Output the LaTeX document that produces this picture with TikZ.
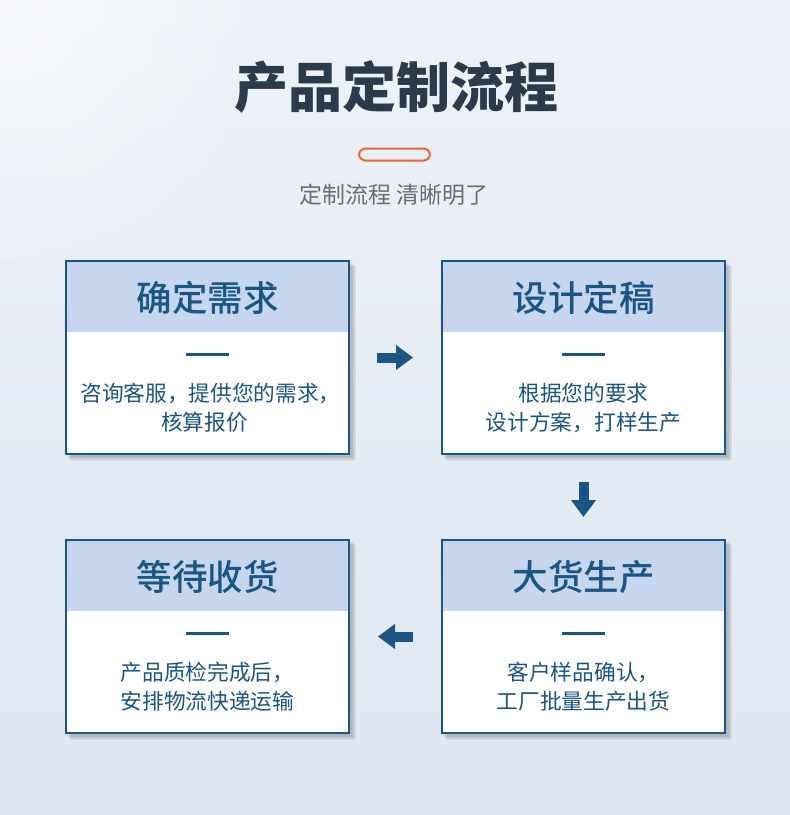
\documentclass[tikz,border=0pt]{standalone}
\usepackage{fontspec}
\setmainfont{Noto Sans CJK SC}
\newfontfamily\cjkmed{Noto Sans CJK SC Medium}
\usetikzlibrary{arrows.meta,calc}
\definecolor{bgA}{HTML}{EEF2F8}
\definecolor{bgB}{HTML}{DEE6F1}
\definecolor{ink}{HTML}{1B5583}
\definecolor{headfill}{HTML}{C5D6EE}
\definecolor{titlecol}{HTML}{2D3A4B}
\definecolor{subcol}{HTML}{6A6E74}
\definecolor{pill}{HTML}{E9643A}
\tikzset{
  card/.style={minimum width=283pt, minimum height=193pt, inner sep=0pt, line width=2pt},
  cardtitle/.style={font=\fontsize{35.5}{38}\selectfont\cjkmed, text=ink, inner sep=0pt},
  cardbody/.style={font=\fontsize{21.7}{28.8}\selectfont, text=ink, align=center, inner sep=0pt},
  dashbar/.style={draw=ink, line width=3pt},
  flow/.style={draw=ink, line width=10pt, -{Triangle[width=24pt,length=17pt]}},
}
\newcommand{\mycard}[5]{%
  \foreach \s/\o in {6/0.05,4.5/0.07,3/0.10}{%
    \fill[black, opacity=\o] ($(#2,#3)+(-142.5+\s,-97.5+\s)$) rectangle ($(#2,#3)+(142.5+\s,97.5+\s)$);}
  \node[card, fill=white] (#1) at (#2,#3) {};
  \fill[headfill] (#1.north west) rectangle ($(#1.north east)+(0,72)$);
  \node[card, draw=ink] at (#1.center) {};
  \node[cardtitle] (#1-t) at ($(#1.north)+(0,38)$) {#4};
  \coordinate (#1-dl) at ($(#1.north)+(-21.5,94)$);
  \coordinate (#1-dr) at ($(#1.north)+(21.5,94)$);
  \draw[dashbar] (#1-dl) -- (#1-dr);
  \node[cardbody] (#1-b) at ($(#1.north)+(0,148)$) {#5};
}
\begin{document}
\begin{tikzpicture}[x=1pt,y=-1pt]
\useasboundingbox (0,0) rectangle (790,815);
\shade[top color=bgA, bottom color=bgB] (0,0) rectangle (790,815);
\shade[inner color=white, outer color=bgA, opacity=0.5] (0,0) circle (260);
\node[font=\fontsize{54}{58}\selectfont\bfseries, text=titlecol, inner sep=0pt] (title) at (396,87) {产品定制流程};
\node[draw=pill, line width=2pt, rounded corners=6.5pt, minimum width=71pt, minimum height=12pt, inner sep=0pt] (pillbar) at (394.5,154.5) {};
\node[font=\fontsize{23}{26}\selectfont, text=subcol, inner sep=0pt] (sub) at (394,195) {定制流程 清晰明了};
\mycard{c1}{207.5}{357.5}{确定需求}{\hspace*{6pt}咨询客服，提供您的需求，\\核算报价\hspace*{6pt}}
\mycard{c2}{583.5}{357.5}{设计定稿}{根据您的要求\\设计方案，打样生产}
\mycard{c3}{207.5}{636.5}{等待收货}{产品质检完成后，\\安排物流快递运输}
\mycard{c4}{583.5}{636.5}{大货生产}{客户样品确认，\\工厂批量生产出货}
\draw[flow, shorten <=27pt, shorten >=28pt] (c1.east) -- (c2.west);
\draw[flow, shorten <=27pt, shorten >=22pt] (c2.south) -- (c4.north);
\draw[flow, shorten <=28pt, shorten >=28pt] (c4.west) -- (c3.east);
\end{tikzpicture}
\end{document}
